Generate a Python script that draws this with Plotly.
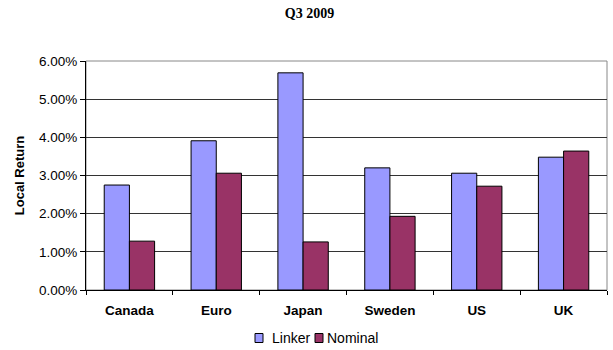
import plotly.graph_objects as go

categories = ["Canada", "Euro", "Japan", "Sweden", "US", "UK"]
linker = [2.75, 3.91, 5.69, 3.20, 3.06, 3.48]
nominal = [1.28, 3.06, 1.26, 1.93, 2.72, 3.64]
y_ticks = [0, 1, 2, 3, 4, 5, 6]
y_tick_labels = [f"{v:.2f}%" for v in y_ticks]
series_names = ["Linker", "Nominal"]
series_colors = ["#9999FF", "#993366"]

L, R, T, B = 86, 6, 61, 60
W, H = 613, 350
pw, ph = W - L - R, H - T - B

fig = go.Figure()
for name, vals, col in zip(series_names, [linker, nominal], series_colors):
    fig.add_trace(go.Bar(name=name, x=categories, y=vals, showlegend=False,
                         marker=dict(color=col, line=dict(color="black", width=1))))

fig.update_layout(
    width=W, height=H,
    margin=dict(l=L, r=R, t=T, b=B),
    paper_bgcolor="white", plot_bgcolor="white",
    barmode="group", bargap=0.42, bargroupgap=0,
    title=dict(text="<b>Q3 2009</b>", xref="container", x=0.505, xanchor="center",
               yref="container", y=1 - 13 / H, yanchor="middle",
               font=dict(family="Liberation Serif", size=14, color="black")),
    font=dict(family="Liberation Sans", size=13, color="black"),
)
fig.update_xaxes(showline=True, linecolor="black", linewidth=1, ticks="outside",
                 tickson="boundaries", ticklen=4, tickcolor="black",
                 ticklabelstandoff=8,
                 tickvals=categories, ticktext=[f"<b>{c}</b>" for c in categories],
                 tickfont=dict(family="Liberation Sans", size=13.5, color="black"),
                 showgrid=False)
fig.update_yaxes(range=[0, 6], tickvals=y_ticks, ticktext=y_tick_labels,
                 tickfont=dict(family="Liberation Sans", size=13.5, color="black"),
                 showline=True, linecolor="black", linewidth=1, ticks="outside",
                 ticklen=5, tickcolor="black", gridcolor="#333333", gridwidth=1,
                 zeroline=False,
                 title=dict(text="<b>Local Return</b>", standoff=11,
                            font=dict(family="Liberation Sans", size=13, color="black")))
fig.add_shape(type="rect", xref="paper", yref="paper", x0=0, x1=1, y0=0, y1=1,
              line=dict(color="#888888", width=1), layer="below")

# compact legend (square swatch + label)
legend_items = [(255, 270), (315, 325)]  # swatch left px, text left px
ly = 338
for (sx, tx), name, col in zip(legend_items, series_names, series_colors):
    fig.add_shape(type="rect", xref="paper", yref="paper",
                  x0=(sx - L) / pw, x1=(sx + 8 - L) / pw,
                  y0=(H - B - (ly + 4.5)) / ph, y1=(H - B - (ly - 4.5)) / ph,
                  fillcolor=col, line=dict(color="black", width=1))
    fig.add_annotation(xref="paper", yref="paper", x=(tx - L) / pw,
                       y=(H - B - ly) / ph, text=name, showarrow=False,
                       xanchor="left", yanchor="middle",
                       font=dict(family="Liberation Sans", size=14, color="black"))
fig.write_html("out.html")
